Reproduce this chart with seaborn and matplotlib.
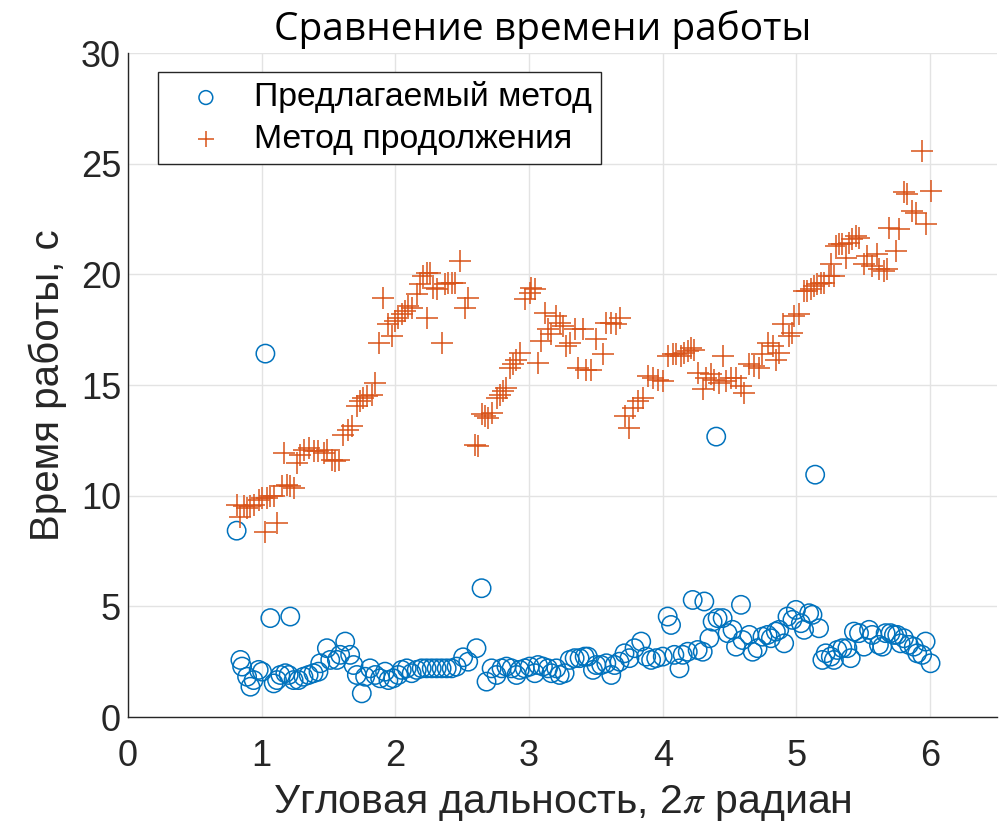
import numpy as np
import pandas as pd
import matplotlib
matplotlib.use("Agg")
import matplotlib.pyplot as plt
import seaborn as sns

# Runtime of the proposed method (circles)
prop_x = [0.813, 0.841, 0.854, 0.891, 0.916, 0.940, 0.978, 1.003, 1.028, 1.065,
          1.090, 1.115, 1.140, 1.177, 1.202, 1.214, 1.239, 1.276, 1.313, 1.351,
          1.388, 1.425, 1.438, 1.488, 1.513, 1.563, 1.587, 1.625, 1.662, 1.687,
          1.712, 1.749, 1.774, 1.811, 1.849, 1.886, 1.923, 1.948, 1.985, 2.022,
          2.048, 2.085, 2.122, 2.160, 2.197, 2.234, 2.272, 2.309, 2.346, 2.384,
          2.421, 2.458, 2.507, 2.545, 2.607, 2.645, 2.682, 2.720, 2.757, 2.794,
          2.831, 2.869, 2.906, 2.930, 2.968, 3.005, 3.043, 3.067, 3.104, 3.142,
          3.167, 3.204, 3.229, 3.266, 3.304, 3.341, 3.378, 3.416, 3.440, 3.478,
          3.503, 3.540, 3.578, 3.615, 3.640, 3.677, 3.714, 3.751, 3.789, 3.839,
          3.876, 3.913, 3.951, 4.000, 4.037, 4.062, 4.087, 4.125, 4.149, 4.187,
          4.224, 4.261, 4.299, 4.311, 4.349, 4.373, 4.400, 4.410, 4.448, 4.485,
          4.522, 4.548, 4.585, 4.597, 4.647, 4.672, 4.709, 4.746, 4.784, 4.809,
          4.846, 4.871, 4.908, 4.933, 4.970, 4.996, 5.033, 5.057, 5.095, 5.120,
          5.140, 5.169, 5.194, 5.219, 5.257, 5.280, 5.306, 5.343, 5.381, 5.406,
          5.430, 5.468, 5.505, 5.543, 5.567, 5.617, 5.642, 5.667, 5.704, 5.729,
          5.754, 5.779, 5.804, 5.841, 5.878, 5.903, 5.940, 5.966, 6.003]
prop_t = [8.42, 2.58, 2.28, 1.82, 1.37, 1.67, 2.13, 2.05, 16.42, 4.47,
          1.52, 1.67, 1.90, 1.98, 1.90, 4.54, 1.67, 1.67, 1.82, 1.90,
          1.98, 2.05, 2.43, 3.11, 2.58, 2.58, 2.81, 3.41, 2.81, 2.35,
          1.90, 1.07, 1.82, 2.20, 1.90, 1.75, 2.05, 1.67, 1.75, 1.90,
          2.13, 2.20, 1.98, 2.13, 2.20, 2.20, 2.20, 2.20, 2.20, 2.20,
          2.20, 2.28, 2.70, 2.50, 3.11, 5.82, 1.60, 2.20, 1.90, 2.20,
          2.28, 2.20, 1.90, 2.13, 2.20, 2.28, 1.98, 2.35, 2.28, 2.20,
          1.98, 2.20, 1.90, 1.98, 2.58, 2.66, 2.66, 2.73, 2.73, 2.13,
          2.35, 2.35, 2.43, 1.90, 2.35, 2.50, 2.88, 2.66, 3.11, 3.41,
          2.73, 2.58, 2.66, 2.73, 4.54, 4.16, 2.81, 2.20, 2.81, 2.95,
          5.29, 3.03, 2.95, 5.22, 3.56, 4.31, 12.67, 4.47, 4.47, 3.79,
          3.94, 3.18, 5.07, 3.48, 3.71, 2.95, 3.11, 3.63, 3.71, 3.56,
          3.86, 3.94, 3.33, 4.54, 4.39, 4.84, 4.24, 3.94, 4.69, 4.62,
          10.95, 4.01, 2.58, 2.88, 2.73, 2.58, 3.03, 3.11, 3.11, 2.66,
          3.86, 3.79, 3.18, 3.94, 3.71, 3.26, 3.18, 3.79, 3.79, 3.71,
          3.71, 3.33, 3.56, 3.26, 3.18, 2.88, 2.81, 3.41, 2.43]

# Runtime of the continuation method (plus signs)
cont_x = [0.816, 0.840, 0.868, 0.891, 0.916, 0.940, 0.978, 1.003, 1.028, 1.040,
          1.065, 1.090, 1.115, 1.152, 1.164, 1.190, 1.214, 1.239, 1.264, 1.289,
          1.314, 1.351, 1.388, 1.425, 1.463, 1.488, 1.525, 1.550, 1.575, 1.612,
          1.649, 1.674, 1.712, 1.737, 1.761, 1.787, 1.824, 1.849, 1.874, 1.910,
          1.948, 1.973, 1.998, 2.022, 2.048, 2.072, 2.097, 2.122, 2.160, 2.184,
          2.209, 2.234, 2.240, 2.259, 2.284, 2.309, 2.346, 2.371, 2.396, 2.421,
          2.446, 2.483, 2.520, 2.545, 2.595, 2.620, 2.645, 2.669, 2.694, 2.720,
          2.757, 2.781, 2.806, 2.831, 2.856, 2.881, 2.906, 2.931, 2.968, 3.005,
          3.018, 3.043, 3.067, 3.093, 3.117, 3.142, 3.167, 3.204, 3.229, 3.254,
          3.279, 3.304, 3.341, 3.366, 3.403, 3.428, 3.466, 3.503, 3.552, 3.578,
          3.615, 3.652, 3.677, 3.714, 3.751, 3.776, 3.813, 3.851, 3.888, 3.925,
          3.963, 4.000, 4.037, 4.075, 4.100, 4.137, 4.162, 4.187, 4.212, 4.237,
          4.262, 4.299, 4.324, 4.361, 4.386, 4.423, 4.448, 4.473, 4.510, 4.548,
          4.585, 4.610, 4.647, 4.684, 4.722, 4.746, 4.784, 4.821, 4.846, 4.871,
          4.896, 4.946, 4.970, 4.983, 5.020, 5.057, 5.082, 5.107, 5.132, 5.157,
          5.182, 5.207, 5.244, 5.257, 5.280, 5.294, 5.318, 5.343, 5.368, 5.393,
          5.418, 5.443, 5.468, 5.506, 5.530, 5.567, 5.604, 5.617, 5.654, 5.679,
          5.691, 5.741, 5.766, 5.804, 5.828, 5.866, 5.891, 5.940, 5.966, 6.003]
cont_t = [9.59, 9.06, 9.52, 9.44, 9.52, 9.59, 9.82, 9.90, 8.38, 9.90,
          9.97, 9.97, 8.76, 10.42, 11.93, 10.50, 10.42, 10.35, 11.48, 11.86,
          12.08, 12.16, 12.00, 12.00, 11.93, 12.08, 11.63, 11.55, 11.63, 12.76,
          12.99, 13.14, 14.04, 14.27, 14.42, 14.49, 14.57, 15.10, 16.90, 18.95,
          17.74, 17.21, 17.89, 18.04, 18.19, 18.34, 18.57, 18.49, 19.10, 19.55,
          19.92, 20.08, 18.04, 20.08, 19.40, 19.32, 16.90, 19.55, 19.62, 19.62,
          19.62, 20.60, 18.49, 18.95, 12.31, 12.23, 13.67, 13.59, 13.52, 13.74,
          14.42, 14.57, 14.72, 14.87, 15.78, 15.93, 16.15, 16.46, 18.87, 19.17,
          19.40, 19.32, 16.00, 16.98, 18.27, 17.51, 17.29, 18.11, 17.81, 17.66,
          16.76, 16.90, 17.51, 15.78, 17.51, 15.70, 15.70, 17.06, 16.38, 17.81,
          17.81, 17.74, 18.04, 13.59, 13.06, 13.97, 14.27, 14.42, 15.40, 15.33,
          15.25, 15.17, 16.30, 16.38, 16.38, 16.30, 16.46, 16.53, 16.68, 16.60,
          15.55, 14.80, 15.33, 15.48, 15.25, 15.10, 16.30, 15.17, 15.33, 15.33,
          14.95, 14.65, 15.93, 15.85, 15.78, 16.38, 16.90, 16.76, 16.15, 16.46,
          17.74, 17.21, 17.36, 18.11, 18.19, 19.24, 19.24, 19.32, 19.47, 19.55,
          19.62, 19.62, 19.92, 20.45, 19.92, 21.28, 21.36, 21.36, 20.76, 21.43,
          21.58, 21.73, 21.66, 20.45, 20.83, 20.38, 20.90, 20.23, 20.15, 20.23,
          22.11, 21.05, 22.04, 23.70, 23.62, 22.86, 22.79, 25.58, 22.26, 23.77]

x_ticks = [0, 1, 2, 3, 4, 5, 6]
y_ticks = [0, 5, 10, 15, 20, 25, 30]

title_text = "Сравнение времени работы"
x_label = "Угловая дальность, 2$\\pi$ радиан"
y_label = "Время работы, с"
label_prop = "Предлагаемый метод"
label_cont = "Метод продолжения"

BLUE = "#0072BD"
ORANGE = "#D95319"

sns.set_theme(style="whitegrid")
plt.rcParams["font.family"] = ["Liberation Sans", "DejaVu Sans"]
plt.rcParams["mathtext.fontset"] = "stix"
plt.rcParams["grid.color"] = "#e3e3e3"
plt.rcParams["grid.linewidth"] = 1.0

df_prop = pd.DataFrame({"x": prop_x, "t": prop_t})
df_cont = pd.DataFrame({"x": cont_x, "t": cont_t})

fig = plt.figure(figsize=(10.02, 8.30), dpi=100)
ax = fig.add_axes([0.1277, 0.1361, 0.8673, 0.8000])

sns.scatterplot(data=df_prop, x="x", y="t", ax=ax, marker="o", s=175,
                facecolors="none", edgecolor=BLUE, linewidth=1.1,
                label=label_prop, zorder=3)
sns.scatterplot(data=df_cont, x="x", y="t", ax=ax, marker="+", s=260,
                color=ORANGE, linewidth=1.1, label=label_cont, zorder=3)

ax.set_xlim(0, 6.5)
ax.set_ylim(0, 30)
ax.set_xticks(x_ticks)
ax.set_yticks(y_ticks)
ax.tick_params(axis="both", labelsize=26, colors="#262626", direction="in",
               length=6, width=1.0)
ax.tick_params(axis="x", pad=16)
ax.tick_params(axis="y", pad=5)

ax.set_facecolor("white")
for side in ["top", "right"]:
    ax.spines[side].set_visible(False)
for side in ["left", "bottom"]:
    ax.spines[side].set_visible(True)
    ax.spines[side].set_color("#262626")
    ax.spines[side].set_linewidth(1.0)
ax.grid(True, color="#e3e3e3", linewidth=1.0)

ax.set_xlabel(x_label, fontsize=29.5, color="#262626", labelpad=6)
ax.set_ylabel(y_label, fontsize=29, color="#262626", labelpad=10)
fig.text(543 / 1002, 1 - 30 / 830, title_text, fontsize=28, color="black",
         ha="center", va="center", family=["Open Sans", "DejaVu Sans"])

leg = ax.legend(loc="upper left", bbox_to_anchor=(0.0345, 0.971),
                borderaxespad=0, fontsize=24.3, frameon=True, fancybox=False,
                handletextpad=0.27, borderpad=0.27, labelspacing=0.32,
                handlelength=2.3, markerscale=0.75)
leg.get_frame().set_edgecolor("#262626")
leg.get_frame().set_linewidth(1.0)
leg.get_frame().set_facecolor("white")
leg.get_frame().set_alpha(1.0)
for txt in leg.get_texts():
    txt.set_color("black")

fig.savefig("out.png", dpi=100, facecolor="white")
